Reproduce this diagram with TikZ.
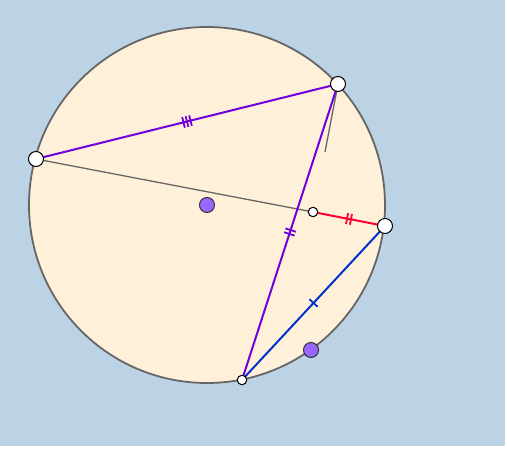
\documentclass[tikz,border=0pt]{standalone}
\usepackage{tikz}
\usetikzlibrary{decorations.markings}
\tikzset{
	% points on the figure
	freept/.style={
		circle,
		draw=black,
		fill=white,
		line width=1pt,
		inner sep=0,
		minimum size=15
	},
	smallpt/.style={
		freept,
		minimum size=9.5
	},
	dotpt/.style={
		circle,
		draw=black!80,
		fill=dotpurple,
		line width=1pt,
		inner sep=0,
		minimum size=15
	},
	% segment styles
	seg/.style={
		line width=2pt
	},
	tickone/.style={
		postaction={decorate, decoration={markings,
			mark=at position 0.5 with {\draw[line width=1.8pt] (0,-5.5) -- (0,5.5);}}}
	},
	ticktwo/.style={
		postaction={decorate, decoration={markings,
			mark=at position 0.5 with {\draw[line width=1.8pt] (-2,-5.5) -- (-2,5.5) (2,-5.5) -- (2,5.5);}}}
	},
	tickthree/.style={
		postaction={decorate, decoration={markings,
			mark=at position 0.5 with {\draw[line width=1.8pt] (-3.6,-5.5) -- (-3.6,5.5) (0,-5.5) -- (0,5.5) (3.6,-5.5) -- (3.6,5.5);}}}
	}
}
\definecolor{bgblue}{HTML}{BCD3E6}
\definecolor{disk}{HTML}{FFF0D9}
\definecolor{rim}{HTML}{666666}
\definecolor{segpurple}{HTML}{7000DD}
\definecolor{segred}{HTML}{FF0033}
\definecolor{segblue}{HTML}{0033CC}
\definecolor{dotpurple}{HTML}{9966FF}

\begin{document}
\begin{tikzpicture}[x=1pt, y=-1pt]
\useasboundingbox (0,0) rectangle (507,449);
\fill[bgblue] (0,0) rectangle (505,446);

\coordinate (O) at (207,205);
\coordinate (A) at (36,159);
\coordinate (B) at (338,84);
\coordinate (C) at (385,226);
\coordinate (D) at (242,380);
\coordinate (P) at (313,212);
\coordinate (Q) at (325,152);

% the circle
\draw[rim, fill=disk, line width=1.8pt] (O) circle[radius=178];

% grey lines
\draw[rim, line width=1.3pt] (A) -- (P);
\draw[rim, line width=1.3pt] (B) -- (Q);

% chords
\draw[seg, segpurple, tickthree] (A) -- (B);
\draw[seg, segpurple, ticktwo] (B) -- (D);
\draw[seg, segred, ticktwo] (P) -- (C);
\draw[seg, segblue, tickone] (C) -- (D);

% points
\node[dotpt] (center) at (O) {};
\node[dotpt] (onarc) at (311,350) {};
\node[freept] (ptA) at (A) {};
\node[freept] (ptB) at (B) {};
\node[freept] (ptC) at (C) {};
\node[smallpt] (ptD) at (D) {};
\node[smallpt] (ptP) at (P) {};

\end{tikzpicture}
\end{document}
